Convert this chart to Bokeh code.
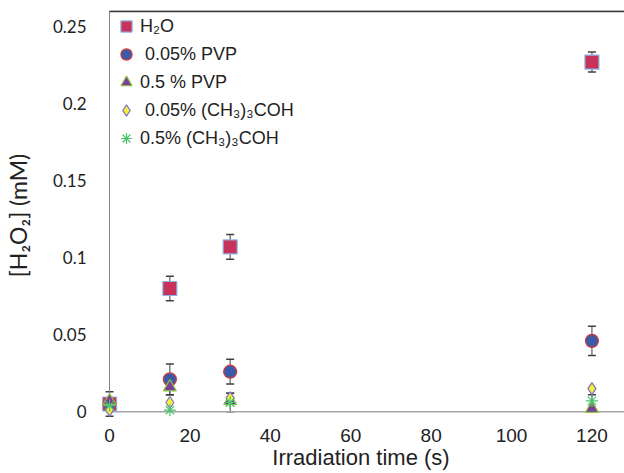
from bokeh.plotting import figure
from bokeh.models import (ColumnDataSource, Whisker, TeeHead, Legend, LegendItem,
                          FixedTicker, Range1d)
from bokeh.embed import file_html
from bokeh.resources import INLINE

# ---- data ----
time_s = [0, 15, 30, 120]
h2o = [0.005, 0.080, 0.107, 0.227]
h2o_err = [0.008, 0.008, 0.008, 0.0065]
pvp_005 = [0.005, 0.021, 0.026, 0.046]
pvp_005_err = [0.0, 0.010, 0.008, 0.0095]
pvp_05 = [0.007, 0.016, 0.007, 0.002]
pvp_05_err = [0.0, 0.005, 0.0, 0.0]
tbu_005 = [0.001, 0.006, 0.009, 0.015]
tbu_005_err = [0.0, 0.0, 0.003, 0.0]
tbu_05 = [0.004, 0.001, 0.006, 0.007]
tbu_05_err = [0.0, 0.0, 0.006, 0.004]

labels = ["H\u2082O", " 0.05% PVP", "0.5 % PVP", " 0.05% (CH\u2083)\u2083COH", "0.5% (CH\u2083)\u2083COH"]
x_ticks = [0, 20, 40, 60, 80, 100, 120]
y_ticks = [0, 0.05, 0.1, 0.15, 0.2, 0.25]
y_tick_labels = ["0", "0.05", "0.1", "0.15", "0.2", "0.25"]

X_START, X_END = -3, 128.1
Y_START, Y_END = -0.0057, 0.2605
Y_TOP = 0.26

p = figure(width=624, height=473, output_backend="svg", toolbar_location=None,
           x_range=Range1d(X_START, X_END), y_range=Range1d(Y_START, Y_END),
           min_border_left=93, min_border_right=0, min_border_top=10, min_border_bottom=53)
p.outline_line_color = None
p.grid.visible = False
p.background_fill_color = "white"
p.border_fill_color = "white"

# axes
p.xaxis.ticker = FixedTicker(ticks=x_ticks)
p.yaxis.ticker = FixedTicker(ticks=y_ticks)
p.yaxis.major_label_overrides = {t: l for t, l in zip(y_ticks, y_tick_labels)}
for ax in (p.xaxis, p.yaxis):
    ax.axis_line_color = None
    ax.major_tick_line_color = None
    ax.minor_tick_line_color = None
    ax.axis_label_text_font_style = "normal"
    ax.axis_label_text_color = "#222222"
    ax.major_label_text_color = "#222222"

p.xaxis.axis_label = "Irradiation time (s)"
p.xaxis.axis_label_text_font = "Liberation Sans"
p.xaxis.axis_label_text_font_size = "22px"
p.xaxis.major_label_text_font = "Liberation Sans"
p.xaxis.major_label_text_font_size = "19px"
p.xaxis.major_label_standoff = 2
p.xaxis.axis_label_standoff = 0

p.yaxis.axis_label = "[H\u2082O\u2082] (mM)"
p.yaxis.axis_label_text_font = "Lato"
p.yaxis.axis_label_text_font_size = "23px"
p.yaxis.major_label_text_font = "Lato"
p.yaxis.major_label_text_font_size = "17px"
p.yaxis.major_label_standoff = 5
p.yaxis.axis_label_standoff = 18

# axis lines drawn as segments at data zero
p.segment(x0=[0], y0=[0], x1=[0], y1=[Y_TOP], line_color="#7f7f7f", line_width=1)
p.segment(x0=[0], y0=[0], x1=[X_END], y1=[0], line_color="#a6a6a6", line_width=1.5)
p.segment(x0=[0], y0=[Y_TOP], x1=[X_END], y1=[Y_TOP], line_color="#3a3a3a", line_width=2)

series = [
    (h2o, h2o_err, dict(marker="square", size=14, fill_color="#C7325A", line_color="#8EB4E3", line_width=1.2)),
    (pvp_005, pvp_005_err, dict(marker="circle", size=13, fill_color="#3B5BA9", line_color="#D03A3A", line_width=1.2)),
    (pvp_05, pvp_05_err, dict(marker="triangle", size=13, fill_color="#7A3E9A", line_color="#8DC63F", line_width=1.2)),
    (tbu_005, tbu_005_err, dict(marker="diamond", size=12, fill_color="#F5F03A", line_color="#7F6FC8", line_width=1.2)),
    (tbu_05, tbu_05_err, dict(marker="asterisk", size=12, line_color="#4CC46E", line_width=1.2)),
]

# error bars
for vals, errs, _ in series:
    xs = [t for t, e in zip(time_s, errs) if e > 0]
    lo = [v - e for v, e in zip(vals, errs) if e > 0]
    hi = [v + e for v, e in zip(vals, errs) if e > 0]
    if xs:
        src = ColumnDataSource(dict(base=xs, lower=lo, upper=hi))
        w = Whisker(source=src, base="base", lower="lower", upper="upper",
                    line_color="#404040", line_width=1,
                    upper_head=TeeHead(size=8, line_color="#404040", line_width=1.5),
                    lower_head=TeeHead(size=8, line_color="#404040", line_width=1.5),
                    level="underlay")
        p.add_layout(w)

renderers = []
for vals, errs, style in series:
    src = ColumnDataSource(dict(x=time_s, y=vals))
    r = p.scatter("x", "y", source=src, **style)
    renderers.append(r)

legend = Legend(items=[LegendItem(label=l, renderers=[r]) for l, r in zip(labels, renderers)],
                location=(15, 268), orientation="vertical",
                glyph_width=28, glyph_height=28, label_height=28, spacing=0,
                padding=1, margin=0, label_standoff=0,
                label_text_font="Liberation Sans", label_text_font_size="18px",
                label_text_color="#222222",
                border_line_color=None, background_fill_alpha=0)
p.add_layout(legend)

open("out.html", "w").write(file_html(p, INLINE))
